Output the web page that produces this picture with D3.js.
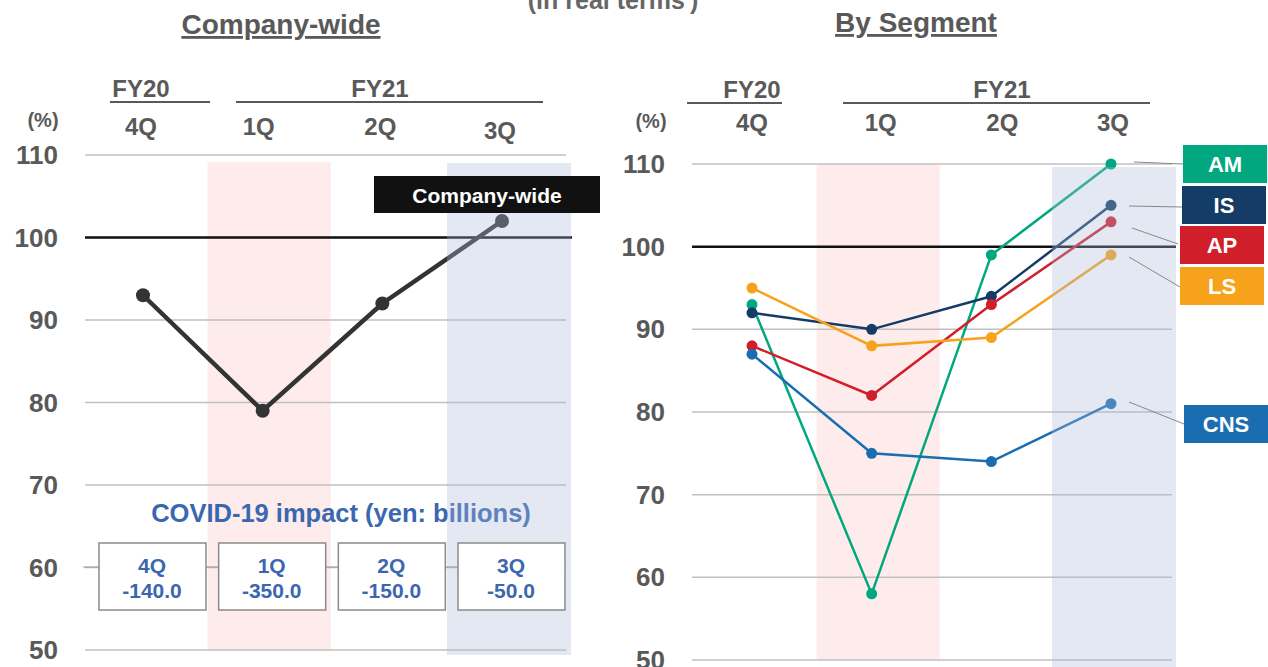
<!DOCTYPE html>
<html><head><meta charset="utf-8">
<script src="https://cdn.jsdelivr.net/npm/d3@7"></script>
<style>body{margin:0;background:#fff}svg{display:block;font-family:"Liberation Sans",Arial,sans-serif;font-weight:bold}</style>
</head><body><svg id="c" width="1268" height="667"></svg>
<script>
const quarters = ["4Q","1Q","2Q","3Q"];
const yTicks = [50,60,70,80,90,100,110];
const companyWide = [93,79,92,102];
const covidImpact = ["-140.0","-350.0","-150.0","-50.0"];
const segments = ["AM","IS","AP","LS","CNS"];
const segAM = [93,58,99,110];
const segIS = [92,90,94,105];
const segAP = [88,82,93,103];
const segLS = [95,88,89,99];
const segCNS = [87,75,74,81];
const segValues = [segAM, segIS, segAP, segLS, segCNS];
const segColors = ["#00a77f","#143c66","#d01f2b","#f7a21b","#1a6db0"];

const svg = d3.select("#c");
const gray = "#595959";

// top note
const note = svg.append("text").attr("x",613).attr("y",9).attr("text-anchor","middle")
  .attr("font-size",25).attr("fill","#666");
note.append("tspan").text("(in real terms");
note.append("tspan").text("*").attr("font-size",13).attr("dy",-9);
note.append("tspan").text(")").attr("dy",9);

function panel(o){
  const x = d3.scalePoint().domain(quarters).range(o.xr);
  const y = d3.scaleLinear().domain([50,110]).range(o.yr);
  const g = svg.append("g");
  g.append("text").attr("x",o.titleX).attr("y",o.titleY).attr("text-anchor","middle")
    .attr("font-size",28).attr("fill",gray).attr("text-decoration","underline").text(o.title);
  g.append("rect").attr("x",x("1Q")-55).attr("width",123).attr("y",o.bandTop).attr("height",o.yr[0]-o.bandTop)
    .attr("fill","#fdeceb");
  g.selectAll(".grid").data(yTicks).join("line")
    .attr("x1",o.gx[0]).attr("x2",o.gx[1]).attr("y1",d=>y(d)).attr("y2",d=>y(d))
    .attr("stroke","#c0c0c0").attr("stroke-width",1.5);
  g.selectAll(".tick").data(yTicks).join("text")
    .attr("x",o.tickX).attr("y",d=>y(d)+9).attr("text-anchor","end")
    .attr("font-size",26).attr("fill",gray).text(d=>d);
  g.append("text").attr("x",o.pctX).attr("y",o.headY+o.pctDy).attr("text-anchor","middle").attr("font-size",20).attr("fill",gray).text("(%)");
  g.selectAll(".q").data(quarters).join("text")
    .attr("x",(d,i)=>x(d)+o.labOff[i]).attr("y",(d,i)=>o.headY+(o.labDy?o.labDy[i]:0)).attr("text-anchor","middle")
    .attr("font-size",24).attr("fill",gray).text(d=>d);
  g.append("text").attr("x",o.fy20X).attr("y",o.fyY).attr("text-anchor","middle").attr("font-size",24).attr("fill",gray).text("FY20");
  g.append("text").attr("x",o.fy21X).attr("y",o.fyY).attr("text-anchor","middle").attr("font-size",24).attr("fill",gray).text("FY21");
  g.append("line").attr("x1",o.fy20L[0]).attr("x2",o.fy20L[1]).attr("y1",o.fyLineY).attr("y2",o.fyLineY).attr("stroke","#222").attr("stroke-width",1.5);
  g.append("line").attr("x1",o.fy21L[0]).attr("x2",o.fy21L[1]).attr("y1",o.fyLineY).attr("y2",o.fyLineY).attr("stroke","#222").attr("stroke-width",1.5);
  return {x,y,g};
}

// LEFT
const L = panel({xr:[143,502], yr:[650,155], gx:[85,566], tickX:58, title:"Company-wide", titleX:281, titleY:34,
  bandTop:162, pctX:43, pctDy:-8, headY:135, labOff:[-2,-4,-2,-2], labDy:[0,0,0,4], fy20X:141, fy21X:380, fyY:97, fyLineY:102,
  fy20L:[110,210], fy21L:[236,543]});
L.g.append("line").attr("x1",85).attr("x2",572).attr("y1",L.y(100)).attr("y2",L.y(100)).attr("stroke","#111").attr("stroke-width",2.5);
L.g.append("path").datum(companyWide)
  .attr("d",d3.line().x((d,i)=>L.x(quarters[i])).y(d=>L.y(d)))
  .attr("fill","none").attr("stroke","#333").attr("stroke-width",4.5);
L.g.selectAll(".cw").data(companyWide).join("circle")
  .attr("cx",(d,i)=>L.x(quarters[i])).attr("cy",d=>L.y(d)).attr("r",7).attr("fill","#333");
L.g.append("text").attr("x",341).attr("y",522).attr("text-anchor","middle").attr("font-size",25.5).attr("fill","#3a67b0")
  .text("COVID-19 impact (yen: billions)");
L.g.append("rect").attr("x",L.x("3Q")-55).attr("width",124).attr("y",163).attr("height",492)
  .attr("fill","rgba(170,185,219,0.33)");
L.g.append("line").attr("x1",83).attr("x2",565).attr("y1",567).attr("y2",567).attr("stroke","#999").attr("stroke-width",1);
const boxes = L.g.selectAll(".box").data(quarters).join("g")
  .attr("transform",(d,i)=>`translate(${L.x(d)+9},0)`);
boxes.append("rect").attr("x",-53).attr("y",543).attr("width",107).attr("height",67)
  .attr("fill","#fff").attr("stroke","#8a8a8a").attr("stroke-width",1.5);
boxes.append("text").attr("y",573).attr("text-anchor","middle").attr("font-size",21).attr("fill","#3a67b0").text(d=>d);
boxes.append("text").attr("y",598).attr("text-anchor","middle").attr("font-size",21).attr("fill","#3a67b0").text((d,i)=>covidImpact[i]);
L.g.append("rect").attr("x",374).attr("y",176).attr("width",226).attr("height",37).attr("fill","#111");
L.g.append("text").attr("x",487).attr("y",202.5).attr("text-anchor","middle").attr("font-size",21).attr("fill","#fff").text("Company-wide");

// RIGHT
const R = panel({xr:[752,1111], yr:[660,164], gx:[692,1172], tickX:665, title:"By Segment", titleX:916, titleY:32,
  bandTop:165, pctX:651, pctDy:-3, headY:131, labOff:[0,9,11,2], fy20X:752, fy21X:1002, fyY:98, fyLineY:103,
  fy20L:[687,782], fy21L:[843,1150]});
R.g.append("line").attr("x1",692).attr("x2",1176).attr("y1",R.y(100)).attr("y2",R.y(100)).attr("stroke","#111").attr("stroke-width",2.5);
segValues.forEach((vals,k)=>{
  R.g.append("path").datum(vals)
    .attr("d",d3.line().x((d,i)=>R.x(quarters[i])).y(d=>R.y(d)))
    .attr("fill","none").attr("stroke",segColors[k]).attr("stroke-width",2.5);
  R.g.selectAll(".p"+k).data(vals).join("circle")
    .attr("cx",(d,i)=>R.x(quarters[i])).attr("cy",d=>R.y(d)).attr("r",5.5).attr("fill",segColors[k]);
});
R.g.append("rect").attr("x",R.x("3Q")-59).attr("width",124).attr("y",167).attr("height",500)
  .attr("fill","rgba(170,185,219,0.33)");
const legY = [145,186,226,267,405];
const legX = [1183,1182,1180,1180,1184];
const leadFrom = [[1134,162],[1129,206],[1132,228],[1129,257],[1129,402]];
const leadTo = [[1183,164],[1182,207],[1178,244],[1180,287],[1184,424]];
segments.forEach((s,k)=>{
  R.g.append("line").attr("x1",leadFrom[k][0]).attr("y1",leadFrom[k][1]).attr("x2",leadTo[k][0]).attr("y2",leadTo[k][1])
    .attr("stroke","#888").attr("stroke-width",1);
  R.g.append("rect").attr("x",legX[k]).attr("y",legY[k]).attr("width",84).attr("height",38).attr("fill",segColors[k]);
  R.g.append("text").attr("x",legX[k]+42).attr("y",legY[k]+27).attr("text-anchor","middle").attr("font-size",22).attr("fill","#fff").text(s);
});
</script></body></html>
